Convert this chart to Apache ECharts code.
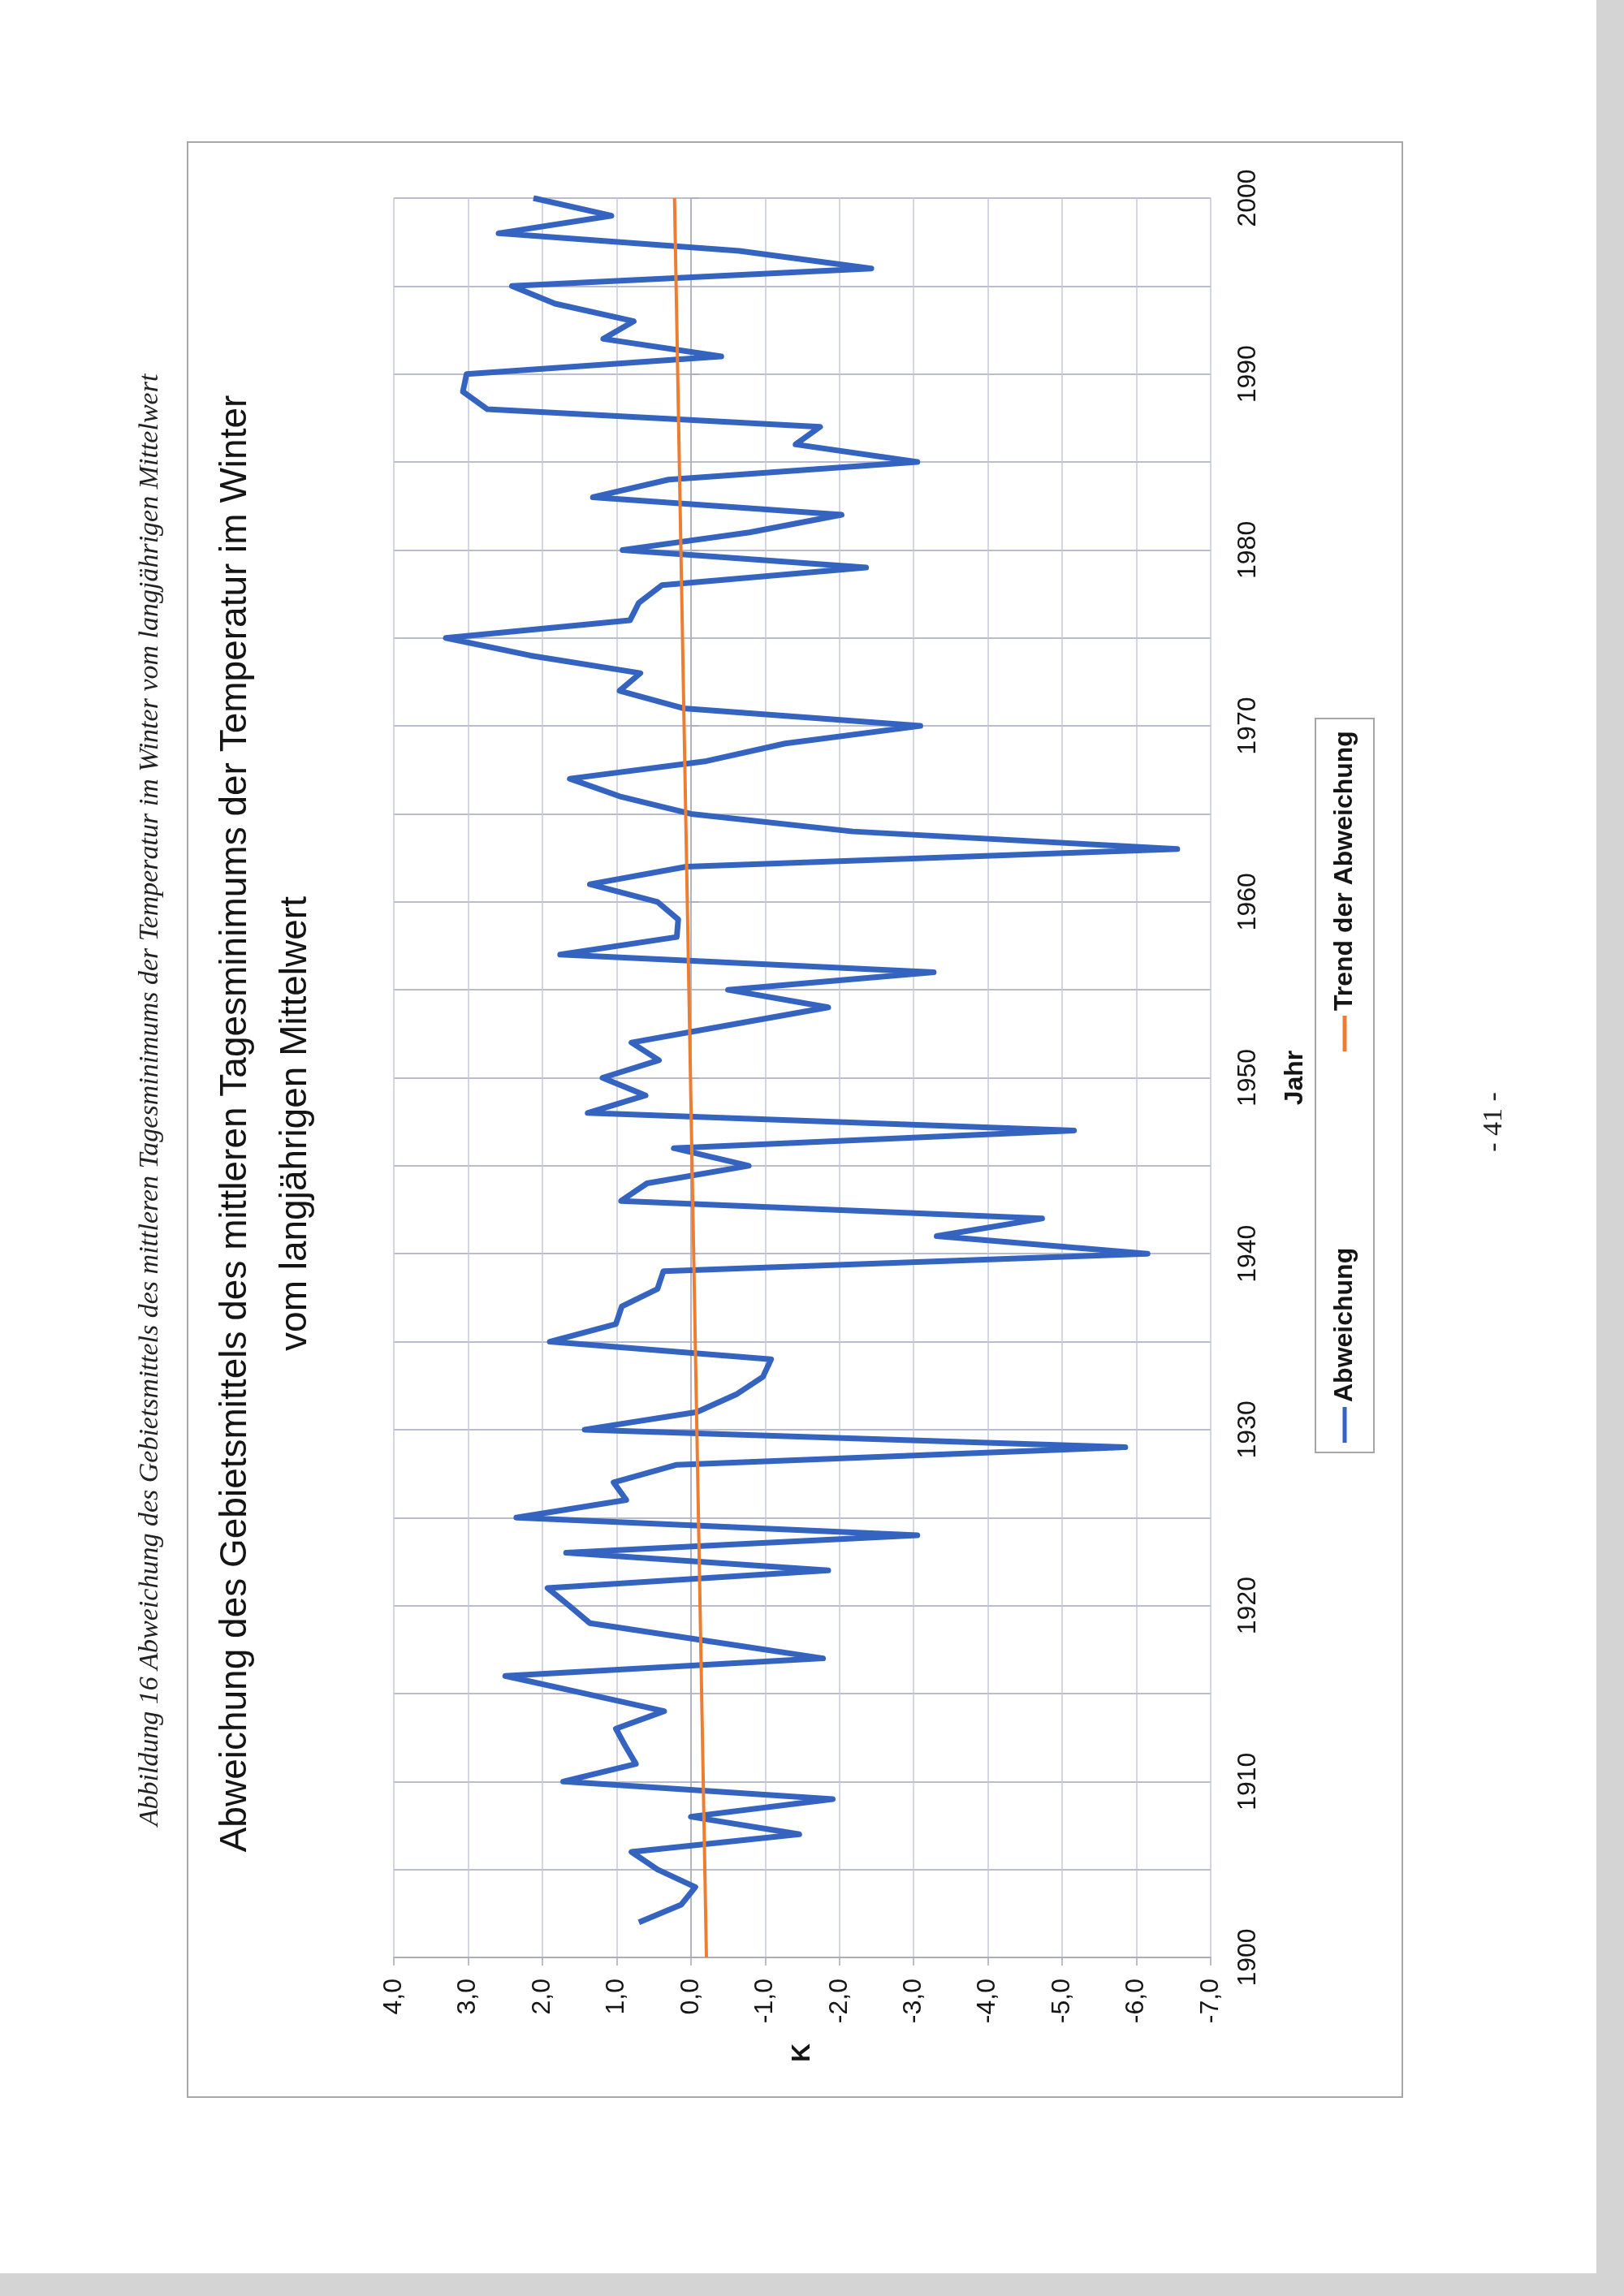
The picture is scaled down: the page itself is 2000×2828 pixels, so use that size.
<!DOCTYPE html>
<html><head><meta charset="utf-8">
<script src="https://cdn.jsdelivr.net/npm/echarts@6/dist/echarts.min.js"></script>
<style>html,body{margin:0;padding:0;background:#fff}#c{width:2000px;height:2828px}</style>
</head><body><div id="c"></div><script>
const years = [];
for (let y = 1902; y <= 2000; y++) years.push(y);
const abweichung = [
 0.70, 0.13,-0.06, 0.45, 0.80,-1.46, 0.00,-1.91,            // 1902-1909
 1.72, 0.74, 0.88, 1.01, 0.36, 1.43, 2.50,-1.78,-0.21, 1.36, // 1910-1919
 1.64, 1.93,-1.85, 1.68,-3.05, 2.35, 0.87, 1.04, 0.19,-5.85, // 1920-1929
 1.43,-0.08,-0.61,-0.97,-1.08, 1.90, 1.01, 0.93, 0.45, 0.37, // 1930-1939
-6.15,-3.31,-4.73, 0.94, 0.59,-0.78, 0.23,-5.16, 1.39, 0.61, // 1940-1949
 1.19, 0.43, 0.80,-0.52,-1.85,-0.50,-3.27, 1.76, 0.19, 0.17, // 1950-1959
 0.45, 1.36, 0.06,-6.55,-2.18, 0.00, 0.96, 1.63,-0.21,-1.27, // 1960-1969
-3.09, 0.10, 0.96, 0.68, 2.16, 3.30, 0.82, 0.70, 0.39,-2.36, // 1970-1979
 0.92,-0.79,-2.03, 1.32, 0.30,-3.05,-1.41,-1.74, 2.74, 3.07, // 1980-1989
 3.02,-0.41, 1.18, 0.77, 1.83, 2.41,-2.43,-0.65, 2.59, 1.07, // 1990-1999
 2.12                                                        // 2000
];
const trendYears = [1900, 2000];
const trendValues = [-0.21, 0.22];
const titleLines = ['Abweichung des Gebietsmittels des mittleren Tagesminimums der Temperatur im Winter', 'vom langjährigen Mittelwert'];
const caption = 'Abbildung 16 Abweichung des Gebietsmittels des mittleren Tagesminimums der Temperatur im Winter vom langjährigen Mittelwert';
const legendNames = ['Abweichung', 'Trend der Abweichung'];
const colors = ['#3563c0', '#ed7d31'];

const R = Math.PI / 2;
const FONT = '"Liberation Sans", Arial, sans-serif';
const chart = echarts.init(document.getElementById('c'));
const fmtK = v => v.toFixed(1).replace('.', ',');

chart.setOption({
  backgroundColor: '#ffffff',
  animation: false,
  grid: { left: 485, right: 509, top: 244, bottom: 417, containLabel: false },
  xAxis: {
    type: 'value', min: -7, max: 4, interval: 1, inverse: true, position: 'bottom',
    axisLine: { show: true, lineStyle: { color: '#a8a8b8', width: 1.5 } },
    axisTick: { show: true, length: 10, lineStyle: { color: '#a8a8b8', width: 1.5 } },
    axisLabel: { rotate: 90, margin: 26, fontSize: 32, color: '#151515', fontFamily: FONT, formatter: fmtK },
    splitLine: { show: true, lineStyle: { color: '#c6c8da', width: 1.5 } },
    name: 'K', nameLocation: 'middle', nameGap: 106, nameRotate: 90,
    nameTextStyle: { fontWeight: 'bold', fontSize: 32, color: '#151515', fontFamily: FONT }
  },
  yAxis: {
    type: 'value', min: 1900, max: 2000, interval: 10, position: 'right',
    axisLine: { show: true, lineStyle: { color: '#a8a8b8', width: 1.5 } },
    axisTick: { show: true, length: 10, lineStyle: { color: '#a8a8b8', width: 1.5 } },
    axisLabel: { rotate: 90, margin: 30, fontSize: 32, color: '#151515', fontFamily: FONT, formatter: v => String(v) },
    splitLine: { show: true, lineStyle: { color: '#a4a6bc', width: 1.5 } },
    minorTick: { show: false, splitNumber: 2 },
    minorSplitLine: { show: true, lineStyle: { color: '#a4a6bc', width: 1.5 } },
    name: 'Jahr', nameLocation: 'middle', nameGap: 88, nameRotate: 90,
    nameTextStyle: { fontWeight: 'bold', fontSize: 32, color: '#151515', fontFamily: FONT }
  },
  series: [
    { name: legendNames[0], type: 'line', showSymbol: false, symbol: 'none',
      data: abweichung.map((v, i) => [v, years[i]]),
      lineStyle: { color: colors[0], width: 7, join: 'round' }, z: 3 },
    { name: legendNames[1], type: 'line', showSymbol: false, symbol: 'none',
      data: trendValues.map((v, i) => [v, trendYears[i]]),
      lineStyle: { color: colors[1], width: 4 }, z: 4 }
  ],
  graphic: [
    { type: 'rect', shape: { x: 1966, y: 0, width: 34, height: 2828 }, style: { fill: '#d4d4d4' }, silent: true },
    { type: 'rect', shape: { x: 0, y: 2800, width: 2000, height: 28 }, style: { fill: '#d4d4d4' }, silent: true },
    { type: 'rect', shape: { x: 231, y: 175, width: 1496, height: 2408 }, style: { fill: 'none', stroke: '#a6a6a6', lineWidth: 2 }, silent: true },
    { type: 'text', x: 185, y: 1355, rotation: R,
      style: { text: caption, font: 'italic 34px "Liberation Serif", "Times New Roman", serif', fill: '#222', textAlign: 'center', textVerticalAlign: 'middle' } },
    { type: 'text', x: 290, y: 1384, rotation: R,
      style: { text: titleLines[0], font: '46px ' + FONT, fill: '#151515', textAlign: 'center', textVerticalAlign: 'middle' } },
    { type: 'text', x: 364, y: 1384, rotation: R,
      style: { text: titleLines[1], font: '46px ' + FONT, fill: '#151515', textAlign: 'center', textVerticalAlign: 'middle' } },
    { type: 'text', x: 1840, y: 1382, rotation: R,
      style: { text: '- 41 -', font: '34px "Liberation Serif", "Times New Roman", serif', fill: '#222', textAlign: 'center', textVerticalAlign: 'middle' } },
    { type: 'group', x: 1656, y: 1337, rotation: R, children: [
      { type: 'rect', shape: { x: -452, y: -36, width: 904, height: 72 }, style: { fill: '#fff', stroke: '#a6a6a6', lineWidth: 2 } },
      { type: 'line', shape: { x1: -440, y1: 0, x2: -396, y2: 0 }, style: { stroke: colors[0], lineWidth: 5 } },
      { type: 'text', x: -390, y: 0, style: { text: legendNames[0], font: 'bold 32px ' + FONT, fill: '#151515', textAlign: 'left', textVerticalAlign: 'middle' } },
      { type: 'line', shape: { x1: 42, y1: 0, x2: 86, y2: 0 }, style: { stroke: colors[1], lineWidth: 5 } },
      { type: 'text', x: 92, y: 0, style: { text: legendNames[1], font: 'bold 32px ' + FONT, fill: '#151515', textAlign: 'left', textVerticalAlign: 'middle' } }
    ] }
  ]
});
</script></body></html>
